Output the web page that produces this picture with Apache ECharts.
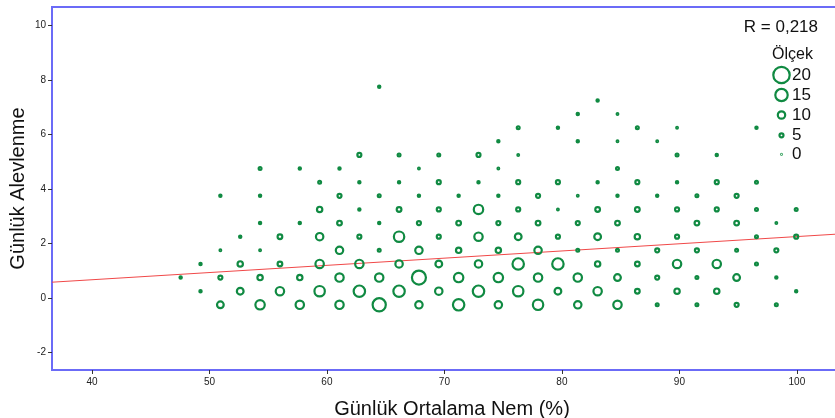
<!DOCTYPE html>
<html>
<head>
<meta charset="utf-8">
<script src="https://cdn.jsdelivr.net/npm/echarts@6/dist/echarts.min.js"></script>
<style>html,body{margin:0;padding:0;background:#fff}#c{width:835px;height:418px}</style>
</head>
<body>
<div id="c"></div>
<script>
const _ = null;
// bin centres (Günlük Ortalama Nem %)
const binX = [47.55,49.24,50.93,52.62,54.31,56.00,57.69,59.38,61.07,62.76,64.45,66.14,67.83,69.52,71.21,72.90,
              74.59,76.28,77.97,79.66,81.35,83.04,84.73,86.42,88.11,89.80,91.49,93.18,94.87,96.56,98.25,99.94];
// bin centres (Günlük Alevlenme)
const rowY = [-0.25,0.25,0.75,1.25,1.75,2.25,2.75,3.25,3.75,4.25,4.75,5.25,5.75,6.25,6.75,7.25,7.75];
// counts per bin, one array per row (index = column of binX)
const r_m025 = [_,_,9,_,12,_,11,_,11,_,16,_,10,_,14,_,10,_,13,_,10,_,11,_,3,_,3,_,5,_,3,_];
const r_025  = [_,2,_,9,_,11,_,13,_,14,_,14,_,10,_,14,_,13,_,9,_,11,_,6,_,7,_,7,_,_,_,2];
const r_075  = [2,_,5,_,7,_,7,_,11,_,11,_,17,_,12,_,12,_,11,_,11,_,9,_,5,_,3,_,9,_,2,_];
const r_125  = [_,2,_,7,_,6,_,11,_,11,_,10,_,9,_,10,_,14,_,14,_,7,_,6,_,11,_,11,_,3,_,_];
const r_175  = [_,_,1,_,1,_,_,_,10,_,3,_,10,_,7,_,7,_,10,_,3,_,3,_,5,_,5,_,3,_,5,_];
const r_225  = [_,_,_,2,_,6,_,10,_,5,_,13,_,5,_,11,_,9,_,5,_,9,_,7,_,5,_,_,_,3,_,5];
const r_275  = [_,_,_,_,2,_,2,_,6,_,2,_,5,_,6,_,5,_,6,_,5,_,6,_,_,_,6,_,6,_,1,_];
const r_325  = [_,_,_,_,_,_,_,7,_,2,_,6,_,5,_,12,_,5,_,1,_,6,_,6,_,5,_,5,_,3,_,3];
const r_375  = [_,_,2,_,2,_,_,_,5,_,3,_,2,_,2,_,2,_,5,_,1,_,2,_,2,_,3,_,5,_,_,_];
const r_425  = [_,_,_,_,_,_,_,3,_,2,_,2,_,5,_,2,_,5,_,5,_,2,_,5,_,2,_,5,_,3,_,_];
const r_475  = [_,_,_,_,3,_,2,_,2,_,_,_,1,_,_,_,1,_,_,_,_,_,3,_,_,_,_,_,_,_,_,_];
const r_525  = [_,_,_,_,_,_,_,_,_,5,_,3,_,3,_,5,_,1,_,_,_,_,_,_,_,3,_,2,_,_,_,_];
const r_575  = [_,_,_,_,_,_,_,_,_,_,_,_,_,_,_,_,2,_,_,_,2,_,1,_,1,_,_,_,_,_,_,_];
const r_625  = [_,_,_,_,_,_,_,_,_,_,_,_,_,_,_,_,_,3,_,2,_,_,_,3,_,1,_,_,_,2,_,_];
const r_675  = [_,_,_,_,_,_,_,_,_,_,_,_,_,_,_,_,_,_,_,_,2,_,1,_,_,_,_,_,_,_,_,_];
const r_725  = [_,_,_,_,_,_,_,_,_,_,_,_,_,_,_,_,_,_,_,_,_,2,_,_,_,_,_,_,_,_,_,_];
const r_775  = [_,_,_,_,_,_,_,_,_,_,2,_,_,_,_,_,_,_,_,_,_,_,_,_,_,_,_,_,_,_,_,_];
const rows = [r_m025,r_025,r_075,r_125,r_175,r_225,r_275,r_325,r_375,r_425,r_475,r_525,r_575,r_625,r_675,r_725,r_775];

// fit line end points
const fitLine = [[36.6, 0.58], [104.69, 2.378]];
const rText = 'R = 0,218';
const legendCounts = [20, 15, 10, 5, 0];
const xTicks = [40, 50, 60, 70, 80, 90, 100];
const yTicks = [-2, 0, 2, 4, 6, 8, 10];

const sizeAnchors = [[0,3.2],[1,3.9],[5,6.2],[10,9.6],[15,14.6],[20,18.6]];
function outerSize(c){
  for (let i=1;i<sizeAnchors.length;i++){
    const a=sizeAnchors[i-1], b=sizeAnchors[i];
    if (c<=b[0]) return a[1]+(c-a[0])/(b[0]-a[0])*(b[1]-a[1]);
  }
  return sizeAnchors[sizeAnchors.length-1][1];
}

const points = [];
rows.forEach((row, i) => row.forEach((c, k) => { if (c !== null) points.push([binX[k], rowY[i], c]); }));

const GREEN = '#108a42';
const BLUE = '#6b6bf7';
const FONT = 'Liberation Sans, Arial, sans-serif';
const RING = 2.2;

const legendGraphics = [];
legendGraphics.push({type:'text', left: 772, top: 47, style:{text:'Ölçek', font:'16px '+FONT, fill:'#111'}});
const legY = [75, 95, 115, 135.3, 154.3];
legendCounts.forEach((c, i) => {
  const d = outerSize(c);
  legendGraphics.push({type:'circle', shape:{cx:781.5, cy:legY[i], r:Math.max((d-RING)/2,0.3)},
    style:{fill:'none', stroke: c === 0 ? '#4fae73' : GREEN, lineWidth:RING}});
  legendGraphics.push({type:'text', x:792, y:legY[i], style:{text:String(c), font:'17px '+FONT, fill:'#111', verticalAlign:'middle', align:'left'}});
});
legendGraphics.push({type:'text', x:818, y:27, style:{text:rText, font:'17px '+FONT, fill:'#111', align:'right', verticalAlign:'middle'}});

const chart = echarts.init(document.getElementById('c'), null, {renderer:'canvas'});
chart.setOption({
  animation:false,
  backgroundColor:'#fff',
  grid:{left:52, top:7, width:800, height:363, show:true, borderColor:BLUE, borderWidth:2, backgroundColor:'#fff',
        outerBoundsMode:'none', containLabel:false},
  xAxis:{type:'value', min:36.6, max:104.69,
    name:'Günlük Ortalama Nem (%)', nameLocation:'middle', nameGap:29, nameMoveOverlap:false,
    nameTextStyle:{fontSize:20, color:'#111', fontFamily:FONT},
    axisLine:{show:false, onZero:false}, splitLine:{show:false},
    axisTick:{show:true, length:4, lineStyle:{color:'#333'}, customValues:xTicks},
    axisLabel:{fontSize:10, color:'#222', margin:7, fontFamily:FONT, customValues:xTicks}},
  yAxis:{type:'value', min:-2.642, max:10.679,
    name:'Günlük Alevlenme', nameLocation:'middle', nameGap:24, nameMoveOverlap:false,
    nameTextStyle:{fontSize:20, color:'#111', fontFamily:FONT},
    axisLine:{show:false, onZero:false}, splitLine:{show:false},
    axisTick:{show:true, length:4, lineStyle:{color:'#333'}, customValues:yTicks},
    axisLabel:{fontSize:10, color:'#222', margin:6, fontFamily:FONT, customValues:yTicks}},
  series:[
    {type:'line', data:fitLine, symbol:'none', lineStyle:{color:'#f04848', width:1}, z:1, silent:true},
    {type:'scatter', data:points, symbol:'circle',
      symbolSize:(v)=>Math.max(outerSize(v[2])-RING, 0.5),
      itemStyle:{color:'rgba(0,0,0,0)', borderColor:GREEN, borderWidth:RING, opacity:1}, z:2, silent:true}
  ],
  graphic:legendGraphics
});
</script>
</body>
</html>
